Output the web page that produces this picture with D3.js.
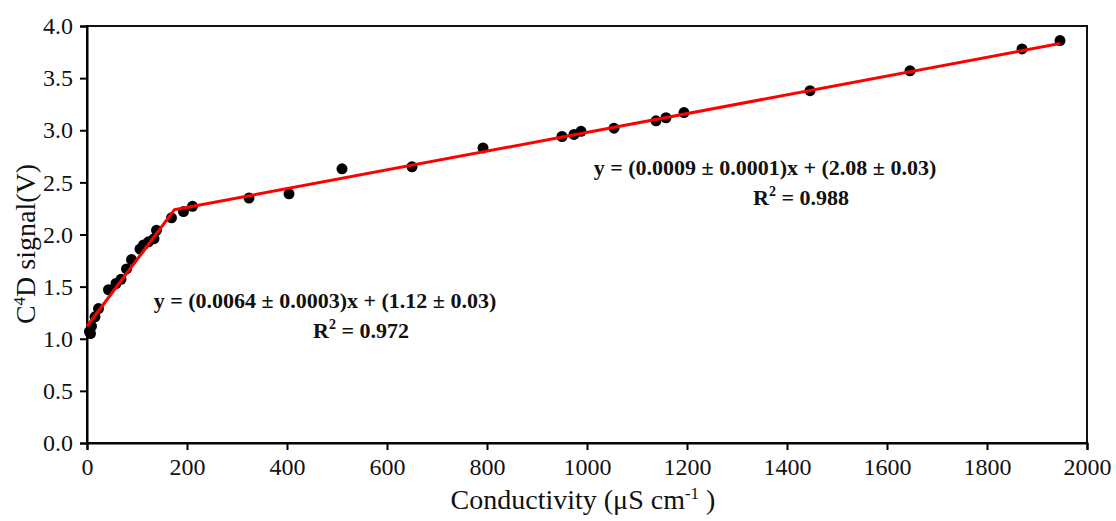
<!DOCTYPE html>
<html>
<head>
<meta charset="utf-8">
<script src="https://cdn.jsdelivr.net/npm/d3@7"></script>
<style>
  body { margin: 0; background: #fff; }
  text { font-family: "Liberation Serif", "Times New Roman", serif; }
</style>
</head>
<body>
<div class="chart"></div>
<script>
// measured points
const conductivity = [5, 7, 9, 16, 23, 43, 58, 68, 79, 89, 106, 113, 123, 134, 139, 169, 193, 211,
    324, 404, 510, 650, 792, 950, 974, 988, 1054, 1138, 1158, 1194, 1446, 1646, 1870, 1946];
const signal = [1.07, 1.05, 1.12, 1.21, 1.29, 1.47, 1.53, 1.57, 1.67, 1.76, 1.86, 1.90, 1.93, 1.96, 2.04, 2.16, 2.22, 2.27,
    2.35, 2.39, 2.63, 2.65, 2.83, 2.94, 2.96, 2.99, 3.02, 3.09, 3.12, 3.17, 3.38, 3.57, 3.78, 3.86];

// fit coefficients [slope, intercept]
const fitLow = [0.0064, 1.12];
const fitHigh = [0.0009, 2.08];
const fitLabels = [
    {eq: "y = (0.0064 ± 0.0003)x + (1.12 ± 0.03)", r2: "0.972"},
    {eq: "y = (0.0009 ± 0.0001)x + (2.08 ± 0.03)", r2: "0.988"}
];

const xTicks = [0, 200, 400, 600, 800, 1000, 1200, 1400, 1600, 1800, 2000];
const yTicks = [0, 0.5, 1, 1.5, 2, 2.5, 3, 3.5, 4];

const data = conductivity.map((c, i) => ({x: c, y: signal[i]}));

const W = 1116, H = 521;
const margin = {top: 26, right: 29, bottom: 78, left: 87};

const svg = d3.select(".chart").append("svg")
    .attr("width", W)
    .attr("height", H);

const xScale = d3.scaleLinear()
    .domain([0, 2000])
    .range([margin.left, W - margin.right]);

const yScale = d3.scaleLinear()
    .domain([0, 4])
    .range([H - margin.bottom, margin.top]);

// frame
svg.append("rect")
    .attr("x", xScale(0))
    .attr("y", yScale(4))
    .attr("width", xScale(2000) - xScale(0))
    .attr("height", yScale(0) - yScale(4))
    .attr("fill", "none")
    .attr("stroke", "#111")
    .attr("stroke-width", 2);

const xAxis = d3.axisBottom(xScale)
    .tickValues(xTicks)
    .tickFormat(d3.format("d"))
    .tickSizeOuter(0)
    .tickSize(7)
    .tickPadding(8);

const yAxis = d3.axisLeft(yScale)
    .tickValues(yTicks)
    .tickFormat(d3.format(".1f"))
    .tickSizeOuter(0)
    .tickSize(7)
    .tickPadding(7);

svg.append("g")
    .attr("class", "axis x-axis")
    .attr("transform", `translate(0, ${yScale(0)})`)
    .call(xAxis)
    .call(g => g.select(".domain").attr("stroke-width", 2))
    .call(g => g.selectAll(".tick line").attr("stroke-width", 2))
    .call(g => g.selectAll("text").attr("font-size", 24).attr("fill", "#111"));

svg.append("g")
    .attr("class", "axis y-axis")
    .attr("transform", `translate(${xScale(0)}, 0)`)
    .call(yAxis)
    .call(g => g.select(".domain").attr("stroke-width", 2))
    .call(g => g.selectAll(".tick line").attr("stroke-width", 2))
    .call(g => g.selectAll("text").attr("font-size", 24).attr("fill", "#111"));

// axis titles
const xt = svg.append("text")
    .attr("x", 583)
    .attr("y", 509)
    .attr("text-anchor", "middle")
    .attr("font-size", 28)
    .attr("fill", "#111");
xt.append("tspan").text("Conductivity (μS cm");
xt.append("tspan").attr("dy", -10).attr("font-size", 17).text("-1");
xt.append("tspan").attr("dy", 10).text(" )");

const yt = svg.append("text")
    .attr("transform", `translate(35, 244) rotate(-90)`)
    .attr("text-anchor", "middle")
    .attr("font-size", 28)
    .attr("fill", "#111");
yt.append("tspan").text("C");
yt.append("tspan").attr("dy", -10).attr("font-size", 17).text("4");
yt.append("tspan").attr("dy", 10).text("D signal(V)");

// fit lines
const xBreak = (fitHigh[1] - fitLow[1]) / (fitLow[0] - fitHigh[0]);
const xEnd = d3.max(conductivity);
const fitPts = [0, xBreak, xEnd].map(x => ({
    x: x,
    y: x <= xBreak ? fitLow[0] * x + fitLow[1] : fitHigh[0] * x + fitHigh[1]
}));

const line = d3.line()
    .x(d => xScale(d.x))
    .y(d => yScale(d.y));

// points
svg.append("g")
    .attr("fill", "#000")
    .selectAll("circle")
    .data(data)
    .join("circle")
    .attr("cx", d => xScale(d.x))
    .attr("cy", d => yScale(d.y))
    .attr("r", 5.5);

svg.append("path")
    .datum(fitPts)
    .attr("fill", "none")
    .attr("stroke", "#ff0000")
    .attr("stroke-width", 3)
    .attr("stroke-linejoin", "round")
    .attr("d", line);

// equations
const labelPos = [{x: 325, y: 308}, {x: 765, y: 175}];
fitLabels.forEach((f, i) => {
    const p = labelPos[i];
    svg.append("text")
        .attr("x", p.x)
        .attr("y", p.y)
        .attr("text-anchor", "middle")
        .attr("font-size", 22)
        .attr("font-weight", "bold")
        .attr("fill", "#111")
        .text(f.eq);
    const r = svg.append("text")
        .attr("x", p.x + 36)
        .attr("y", p.y + 30)
        .attr("text-anchor", "middle")
        .attr("font-size", 22)
        .attr("font-weight", "bold")
        .attr("fill", "#111");
    r.append("tspan").text("R");
    r.append("tspan").attr("dy", -9).attr("font-size", 14).text("2");
    r.append("tspan").attr("dy", 9).text(" = " + f.r2);
});
</script>
</body>
</html>
